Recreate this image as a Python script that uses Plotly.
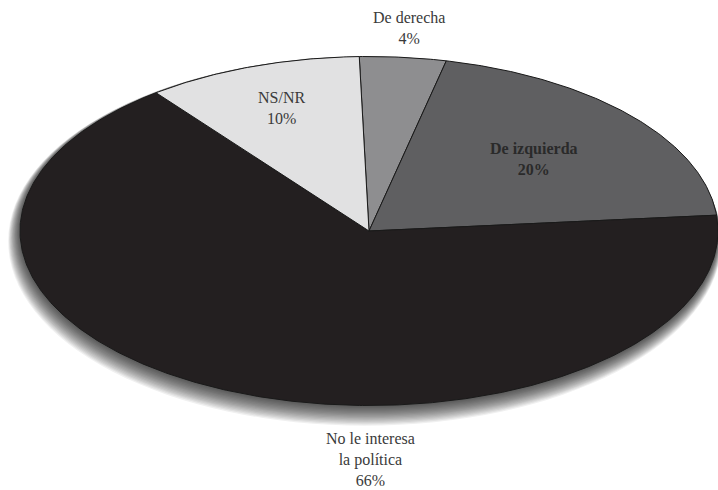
import numpy as np
import plotly.graph_objects as go

# survey shares, clockwise from the top
categories = ['De derecha', 'De izquierda', 'No le interesa<br>la política', 'NS/NR']
shares = [4, 20, 66, 10]
colors = ['#8e8e90', '#5f5f61', '#231f20', '#e1e1e2']

START_DEG = 91.6        # where the first slice begins (counterclockwise from 3 o'clock)
CX, CY = 369, 231       # pie centre in pixels
RX, RY = 349, 174.5     # pie half-axes in pixels
W, H = 718, 490

fig = go.Figure()

# soft drop shadow: stacked faint ellipses, drifting down and to the left
N_SHADOW = 16
for i in range(N_SHADOW, 0, -1):
    t = i / N_SHADOW
    cx, cy = -0.012 * t, -0.058 * t
    rx, ry = 1 + 0.022 * t, 1 + 0.058 * t
    fig.add_shape(type='circle', xref='x', yref='y', layer='below',
                  x0=cx - rx, x1=cx + rx, y0=cy - ry, y1=cy + ry,
                  fillcolor='rgba(0,0,0,0.06)', line_width=0)

total = float(sum(shares))
angle = START_DEG
mids = []
for name, val, col in zip(categories, shares, colors):
    sweep = 360 * val / total
    th = np.radians(np.linspace(angle, angle - sweep, max(int(sweep * 2), 8)))
    xs = np.concatenate([[0], np.cos(th), [0]])
    ys = np.concatenate([[0], np.sin(th), [0]])
    fig.add_trace(go.Scatter(x=xs, y=ys, mode='lines', fill='toself',
                             fillcolor=col, line=dict(color='#1a1a1a', width=1),
                             hoverinfo='skip', showlegend=False))
    mids.append(angle - sweep / 2)
    angle -= sweep

# label placement (radius along slice mid-angle, in pie units)
label_r = [1.17, 0.63, None, 0.75]
label_bold = [False, True, False, False]
label_text = []
for name, val, bold in zip(categories, shares, label_bold):
    s = f'{name}<br>{val}%'
    label_text.append(f'<b>{s}</b>' if bold else s)

for txt, mid, r, bold in zip(label_text, mids, label_r, label_bold):
    if r is None:
        x, y = 0.003, -1.307
    else:
        x, y = r * np.cos(np.radians(mid)), r * np.sin(np.radians(mid))
    fig.add_annotation(x=x, y=y, xref='x', yref='y', text=txt, showarrow=False,
                       align='center',
                       font=dict(family='Liberation Serif', size=16,
                                 color='#2a2a2a' if bold else '#3a3a3a'))

fig.update_layout(width=W, height=H,
                  margin=dict(l=0, r=0, t=0, b=0),
                  paper_bgcolor='white', plot_bgcolor='white',
                  showlegend=False,
                  xaxis=dict(visible=False, range=[-CX / RX, (W - CX) / RX], fixedrange=True),
                  yaxis=dict(visible=False, range=[-(H - CY) / RY, CY / RY], fixedrange=True))

fig.write_html('out.html', config={'displayModeBar': False},
               post_script="document.body.style.margin='0';"
                           "document.body.style.overflow='hidden';")
